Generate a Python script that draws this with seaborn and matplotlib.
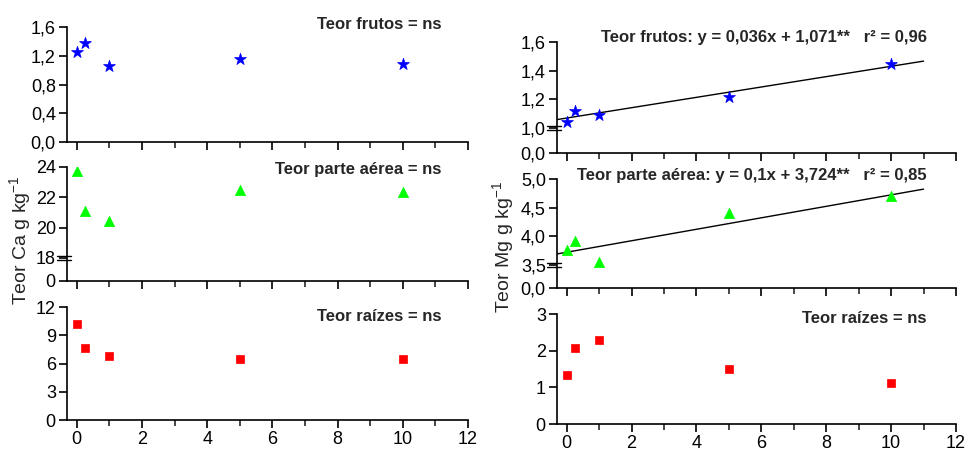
import numpy as np
import matplotlib
matplotlib.use('Agg')
import matplotlib.pyplot as plt
import matplotlib.transforms as mtrans
from matplotlib.ticker import MultipleLocator
import seaborn as sns
import pandas as pd

# ---------------- data ---------------- #
doses = [0, 0.25, 1, 5, 10]

ca_frutos = [1.25, 1.38, 1.06, 1.15, 1.085]
ca_aerea = [23.75, 21.1, 20.45, 22.5, 22.35]
ca_raizes = [10.2, 7.7, 6.83, 6.5, 6.47]

mg_frutos = [1.043, 1.12, 1.094, 1.22, 1.45]
mg_aerea = [3.77, 3.92, 3.56, 4.41, 4.70]
mg_raizes = [1.34, 2.07, 2.29, 1.49, 1.11]

# fitted lines: slope, intercept
fit_mg_frutos = (0.036, 1.071)
fit_mg_aerea = (0.1, 3.724)

azul = "#0000FF"
verde = "#00FF00"
vermelho = "#FF0000"

sns.set_style('ticks')
plt.rcParams['font.family'] = ['Liberation Sans', 'DejaVu Sans']
plt.rcParams['mathtext.default'] = 'regular'
tick_fs = 13
note_fs = 12


def broken_scale(brk, comp):
    # values below brk are squeezed into [0, comp]
    def fwd(y):
        y = np.asarray(y, dtype=float)
        return np.where(y < brk, y * comp / brk, comp + y - brk)

    def inv(v):
        v = np.asarray(v, dtype=float)
        return np.where(v < comp, v * brk / comp, v - comp + brk)
    return fwd, inv


def style_ax(ax, xlim, show_x):
    sns.despine(ax=ax)
    ax.set_xlim(*xlim)
    ax.xaxis.set_major_locator(MultipleLocator(2))
    ax.xaxis.set_minor_locator(MultipleLocator(1))
    ax.tick_params(axis='both', which='major', direction='out', length=6, width=1.2,
                   labelsize=tick_fs, colors='k', pad=2)
    ax.tick_params(axis='x', which='minor', direction='out', length=4, width=1.2)
    ax.tick_params(axis='x', labelbottom=show_x)
    for s in ['left', 'bottom']:
        ax.spines[s].set_linewidth(1.2)
        ax.spines[s].set_color('k')
    ax.set_xlabel('')
    ax.set_ylabel('')


def break_mark(ax, yval):
    tr = mtrans.blended_transform_factory(ax.transAxes, ax.transData)
    for dy in (-0.018, 0.018):
        t = tr + mtrans.ScaledTranslation(0, dy, ax.figure.dpi_scale_trans)
        ax.plot([-0.025, 0.01], [yval, yval], transform=t, color='k', lw=1.0,
                clip_on=False)


def scatter(ax, y, color, marker, size):
    df = pd.DataFrame({'dose': doses, 'teor': y})
    sns.scatterplot(data=df, x='dose', y='teor', ax=ax, color=color, marker=marker,
                    s=size, edgecolor=color, linewidth=0.5, zorder=3, legend=False)


def fit_line(ax, fit, x0, x1):
    xs = np.array([x0, x1])
    ax.plot(xs, fit[0] * xs + fit[1], color='k', lw=1.0, zorder=2)


def note(ax, x, y, s):
    ax.text(x, y, s, transform=ax.transAxes, ha='right', va='center',
            fontsize=note_fs, fontweight='bold')


fig = plt.figure(figsize=(9.69, 4.53), dpi=100)

L, W = 0.0691, 0.4138
R, WR = 0.5748, 0.4118
ax1 = fig.add_axes([L, 0.6865, W, 0.2539])
ax2 = fig.add_axes([L, 0.3797, W, 0.2517])
ax3 = fig.add_axes([L, 0.0728, W, 0.2494])
ax4 = fig.add_axes([R, 0.6623, WR, 0.2450])
ax5 = fig.add_axes([R, 0.3642, WR, 0.2406])
ax6 = fig.add_axes([R, 0.0640, WR, 0.2428])

# ---------------- Ca (left) ---------------- #
scatter(ax1, ca_frutos, azul, '*', 80)
style_ax(ax1, (-0.3, 12), False)
ax1.set_ylim(0, 1.6)
ax1.set_yticks([0, 0.4, 0.8, 1.2, 1.6])
ax1.set_yticklabels(['0,0', '0,4', '0,8', '1,2', '1,6'])
note(ax1, 0.935, 1.026, 'Teor frutos = ns')

ax2.set_yscale('function', functions=broken_scale(18, 1.53))
scatter(ax2, ca_aerea, verde, '^', 55)
style_ax(ax2, (-0.3, 12), False)
ax2.set_ylim(0, 24)
ax2.set_yticks([0, 18, 20, 22, 24])
ax2.set_yticklabels(['0', '18', '20', '22', '24'])
break_mark(ax2, 18)
note(ax2, 0.935, 0.974, 'Teor parte aérea = ns')

scatter(ax3, ca_raizes, vermelho, 's', 35)
style_ax(ax3, (-0.3, 12), True)
ax3.set_ylim(0, 12)
ax3.set_yticks([0, 3, 6, 9, 12])
ax3.set_xticks([0, 2, 4, 6, 8, 10, 12])
note(ax3, 0.935, 0.92, 'Teor raízes = ns')

fig.text(20 / 969, 1 - 240 / 453, 'Teor Ca g kg$^{-1}$', rotation=90, ha='center',
         va='center', fontsize=14)

# ---------------- Mg (right) ---------------- #
ax4.set_yscale('function', functions=broken_scale(1.0, 0.172))
fit_line(ax4, fit_mg_frutos, -0.3, 11)
scatter(ax4, mg_frutos, azul, '*', 80)
style_ax(ax4, (-0.3, 12), False)
ax4.set_ylim(0, 1.6)
ax4.set_yticks([0, 1.0, 1.2, 1.4, 1.6])
ax4.set_yticklabels(['0,0', '1,0', '1,2', '1,4', '1,6'])
break_mark(ax4, 1.0)
note(ax4, 0.927, 1.036, 'Teor frutos: y = 0,036x + 1,071**   r² = 0,96')

ax5.set_yscale('function', functions=broken_scale(3.5, 0.4))
fit_line(ax5, fit_mg_aerea, -0.3, 11)
scatter(ax5, mg_aerea, verde, '^', 55)
style_ax(ax5, (-0.3, 12), False)
ax5.set_ylim(0, 5.0)
ax5.set_yticks([0, 3.5, 4.0, 4.5, 5.0])
ax5.set_yticklabels(['0,0', '3,5', '4,0', '4,5', '5,0'])
break_mark(ax5, 3.5)
note(ax5, 0.927, 1.03, 'Teor parte aérea: y = 0,1x + 3,724**   r² = 0,85')

scatter(ax6, mg_raizes, vermelho, 's', 35)
style_ax(ax6, (-0.3, 12), True)
ax6.set_ylim(0, 3)
ax6.set_yticks([0, 1, 2, 3])
ax6.set_xticks([0, 2, 4, 6, 8, 10, 12])
note(ax6, 0.927, 0.955, 'Teor raízes = ns')

fig.text(503 / 969, 1 - 247 / 453, 'Teor Mg g kg$^{-1}$', rotation=90, ha='center',
         va='center', fontsize=14)

fig.savefig('out.png', dpi=100)
